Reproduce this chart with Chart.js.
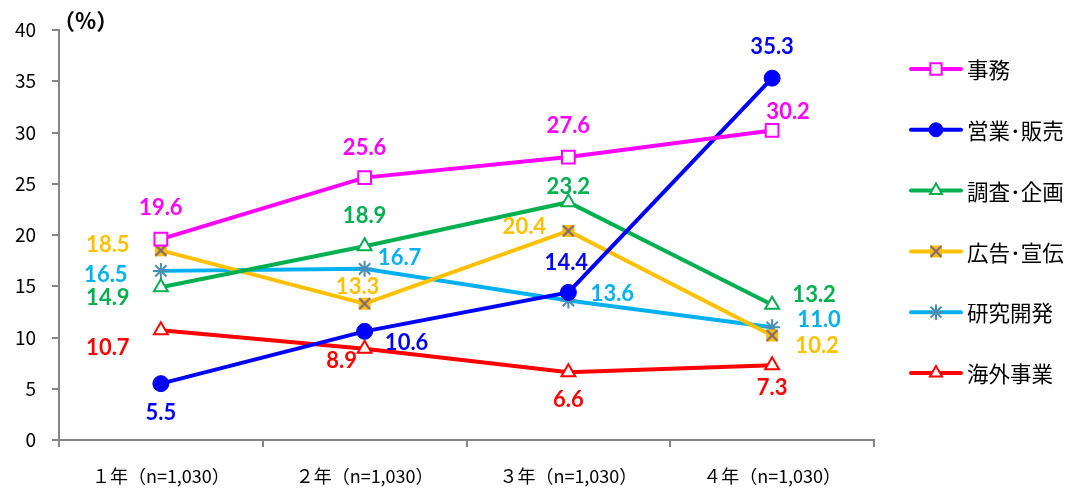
<!DOCTYPE html>
<html>
<head>
<meta charset="utf-8">
<script src="https://cdn.jsdelivr.net/npm/chart.js@4/dist/chart.umd.min.js"></script>
<style>
  html, body { margin: 0; padding: 0; background: #fff; }
  #wrap { width: 1074px; height: 489px; }
</style>
</head>
<body>
<div id="wrap"><canvas id="c" width="1074" height="489"></canvas></div>
<script>
// Categories and tick labels
const categories = ['１年（n=1,030）', '２年（n=1,030）', '３年（n=1,030）', '４年（n=1,030）'];
const yTicks = [0, 5, 10, 15, 20, 25, 30, 35, 40];

// Series values (%)
const jimu     = [19.6, 25.6, 27.6, 30.2];
const eigyo    = [5.5, 10.6, 14.4, 35.3];
const chosa    = [14.9, 18.9, 23.2, 13.2];
const kokoku   = [18.5, 13.3, 20.4, 10.2];
const kenkyu   = [16.5, 16.7, 13.6, 11.0];
const kaigai   = [10.7, 8.9, 6.6, 7.3];

const seriesNames = ['事務', '営業･販売', '調査･企画', '広告･宣伝', '研究開発', '海外事業'];

// Orange square with a crossed mark on top
function makeAdMarker() {
  const c = document.createElement('canvas');
  c.width = 16; c.height = 16;
  const g = c.getContext('2d');
  g.fillStyle = '#FFC000';
  g.fillRect(2, 2, 12, 12);
  g.strokeStyle = '#7A6389';
  g.lineWidth = 2;
  g.beginPath();
  g.moveTo(2.5, 2.5); g.lineTo(13.5, 13.5);
  g.moveTo(13.5, 2.5); g.lineTo(2.5, 13.5);
  g.stroke();
  return c;
}
const adMarker = makeAdMarker();

// Label offsets (dx, dy) from each point, per series
const labelOffsets = [
  [[0, -31], [0, -30], [0, -31], [16, -19]],
  [[0, 29], [42, 12], [-2, -29], [0, -31]],
  [[-53, 11], [0, -30], [0, -15], [42, -10]],
  [[-53, -5], [-7, -17], [-44, -4], [45, 10]],
  [[-55, 4], [35, -11], [44, -7], [47, -7]],
  [[-53, 18], [-23, 12], [0, 28], [0, 23]]
];
const labelColors = ['#FF00FF', '#0000FF', '#00B050', '#FFC000', '#00B0F0', '#FF0000'];

const datasets = [
  { label: seriesNames[0], data: jimu, borderColor: '#FF00FF', backgroundColor: '#FFFFFF',
    pointStyle: 'rect', pointRadius: 9, pointBorderWidth: 2, pointBorderColor: '#FF00FF', pointBackgroundColor: '#FFFFFF' },
  { label: seriesNames[1], data: eigyo, borderColor: '#0000FF', backgroundColor: '#0000FF',
    pointStyle: 'circle', pointRadius: 8, pointBorderWidth: 1, pointBorderColor: '#0000FF', pointBackgroundColor: '#0000FF' },
  { label: seriesNames[2], data: chosa, borderColor: '#00B050', backgroundColor: '#FFFFFF',
    pointStyle: 'triangle', pointRadius: 8, pointBorderWidth: 2, pointBorderColor: '#00B050', pointBackgroundColor: '#FFFFFF' },
  { label: seriesNames[3], data: kokoku, borderColor: '#FFC000', backgroundColor: '#FFC000',
    pointStyle: adMarker, pointRadius: 8, pointBorderWidth: 0, pointBorderColor: '#FFC000', pointBackgroundColor: '#FFC000' },
  { label: seriesNames[4], data: kenkyu, borderColor: '#00B0F0', backgroundColor: '#4A8DB5',
    pointStyle: 'star', pointRadius: 8, pointBorderWidth: 2, pointBorderColor: '#4A8DB5', pointBackgroundColor: '#4A8DB5' },
  { label: seriesNames[5], data: kaigai, borderColor: '#FF0000', backgroundColor: '#FFFFFF',
    pointStyle: 'triangle', pointRadius: 8, pointBorderWidth: 2, pointBorderColor: '#FF0000', pointBackgroundColor: '#FFFFFF' }
].map(d => Object.assign({ borderWidth: 4, tension: 0, fill: false }, d));

// Value labels next to each point
const valueLabels = {
  id: 'valueLabels',
  afterDatasetsDraw(chart) {
    const ctx = chart.ctx;
    ctx.save();
    ctx.font = 'bold 22px Lato, "Open Sans", sans-serif';
    ctx.textAlign = 'center';
    ctx.textBaseline = 'middle';
    chart.data.datasets.forEach((ds, i) => {
      const meta = chart.getDatasetMeta(i);
      meta.data.forEach((pt, j) => {
        const off = labelOffsets[i][j];
        ctx.fillStyle = labelColors[i];
        ctx.fillText(ds.data[j].toFixed(1), pt.x + off[0], pt.y + off[1]);
      });
    });
    ctx.restore();
  }
};

// Unit caption and legend on the right
const extras = {
  id: 'extras',
  afterDraw(chart) {
    const ctx = chart.ctx;
    ctx.save();
    ctx.fillStyle = '#000';
    ctx.font = 'bold 22px "Noto Sans CJK JP", sans-serif';
    ctx.textAlign = 'left';
    ctx.textBaseline = 'middle';
    ctx.fillText('（%）', 53, 21);

    const rowY0 = 69, rowStep = 60.8;
    chart.data.datasets.forEach((ds, i) => {
      const y = rowY0 + i * rowStep;
      ctx.strokeStyle = ds.borderColor;
      ctx.lineWidth = 4;
      ctx.lineCap = 'round';
      ctx.beginPath();
      ctx.moveTo(911, y);
      ctx.lineTo(961, y);
      ctx.stroke();
      ctx.save();
      ctx.fillStyle = ds.pointBackgroundColor;
      ctx.strokeStyle = ds.pointBorderColor;
      ctx.lineWidth = ds.pointBorderWidth;
      Chart.helpers.drawPoint(ctx, {
        pointStyle: ds.pointStyle,
        radius: ds.pointRadius - 1,
        borderWidth: ds.pointBorderWidth,
        rotation: 0
      }, 936, y);
      ctx.restore();
      ctx.fillStyle = '#000';
      ctx.font = '21.5px "Noto Sans CJK JP", sans-serif';
      ctx.fillText(ds.label, 967, y + 1);
    });
    ctx.restore();
  }
};

new Chart(document.getElementById('c'), {
  type: 'line',
  data: { labels: categories, datasets },
  plugins: [valueLabels, extras],
  options: {
    responsive: false,
    animation: false,
    layout: { padding: { left: 0, right: 200, top: 30, bottom: 0 } },
    plugins: { legend: { display: false }, tooltip: { enabled: false } },
    scales: {
      x: {
        type: 'category',
        offset: true,
        afterFit(scale) { scale.height = 49; },
        grid: { display: true, offset: true, drawOnChartArea: false, drawTicks: true, tickLength: 7, color: '#868686', lineWidth: 2 },
        border: { display: true, color: '#868686', width: 2 },
        ticks: { color: '#000', padding: 18, font: { size: 18, family: '"Noto Sans CJK JP", sans-serif' }, maxRotation: 0 }
      },
      y: {
        min: 0, max: 40,
        afterFit(scale) { scale.width = 59; },
        afterBuildTicks(scale) { scale.ticks = yTicks.map(v => ({ value: v })); },
        grid: { display: true, drawOnChartArea: false, drawTicks: true, tickLength: 7, color: '#868686', lineWidth: 2 },
        border: { display: true, color: '#868686', width: 2 },
        ticks: { color: '#000', padding: 16, font: { size: 19, family: '"Noto Sans CJK JP", sans-serif' } }
      }
    }
  }
});
</script>
</body>
</html>
